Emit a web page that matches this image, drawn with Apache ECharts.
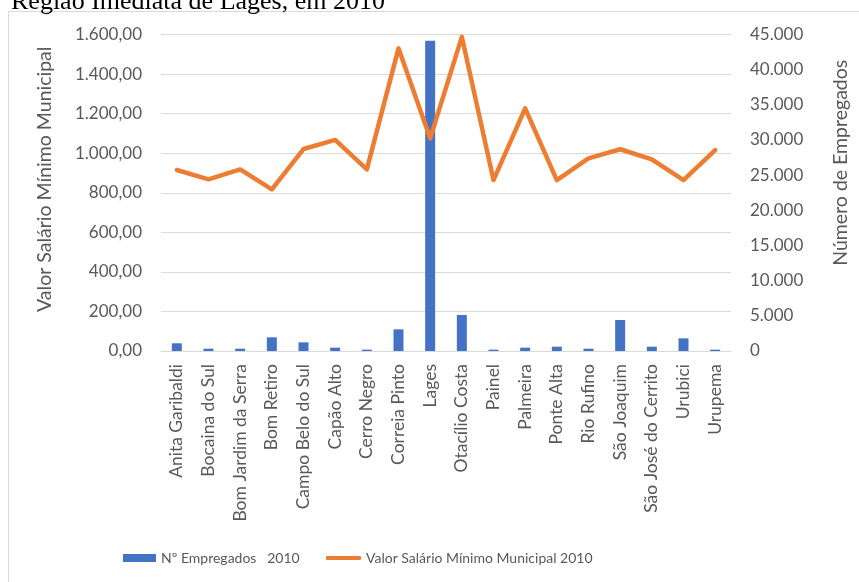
<!DOCTYPE html>
<html>
<head>
<meta charset="utf-8">
<script src="https://cdn.jsdelivr.net/npm/echarts@6/dist/echarts.min.js"></script>
<style>
  html, body { margin: 0; padding: 0; background: #ffffff; }
  #chart { width: 859px; height: 582px; }
</style>
</head>
<body>
<div id="chart"></div>
<script>
// Municípios da Região Imediata de Lages
const municipios = [
  'Anita Garibaldi', 'Bocaina do Sul', 'Bom Jardim da Serra', 'Bom Retiro',
  'Campo Belo do Sul', 'Capão Alto', 'Cerro Negro', 'Correia Pinto', 'Lages',
  'Otacílio Costa', 'Painel', 'Palmeira', 'Ponte Alta', 'Rio Rufino',
  'São Joaquim', 'São José do Cerrito', 'Urubici', 'Urupema'
];

// Valor do salário mínimo municipal em 2010 (R$)
const salarioMinimo2010 = [
  915, 868, 918, 817, 1021, 1067, 918, 1530, 1075,
  1588, 864, 1227, 864, 974, 1020, 969, 864, 1016
];

// Número de empregados em 2010
const empregados2010 = [
  1095, 330, 330, 1945, 1230, 475, 190, 3080, 44120,
  5120, 190, 475, 615, 330, 4410, 615, 1800, 190
];

// Escalas dos eixos
const salarioEixo = { min: 0, max: 1600, interval: 200 };
const empregadosEixo = { min: 0, max: 45000, interval: 5000 };

const serieBarras = 'Nº Empregados   2010';
const serieLinha = 'Valor Salário Mínimo Municipal 2010';

function milhar(n) {
  return String(Math.round(n)).replace(/\B(?=(\d{3})+(?!\d))/g, '.');
}
function moeda(n) {
  const inteiro = Math.floor(n);
  const cent = Math.round((n - inteiro) * 100);
  return milhar(inteiro) + ',' + String(cent).padStart(2, '0');
}

const txt = '#595959';
const grade = '#d9d9d9';
const fonte = 'Lato';
const azul = '#4472C4';
const laranja = '#ED7D31';

const chart = echarts.init(document.getElementById('chart'));
chart.setOption({
  animation: false,
  backgroundColor: '#ffffff',
  title: {
    text: 'Região Imediata de Lages, em 2010',
    left: 6,
    top: -16,
    textStyle: { fontFamily: 'Liberation Serif', fontSize: 26, fontWeight: 'normal', color: '#000000' }
  },
  graphic: [{
    type: 'rect',
    shape: { x: 8.5, y: 11.5, width: 900, height: 620 },
    style: { fill: 'none', stroke: grade, lineWidth: 1 },
    silent: true,
    z: -1
  }],
  grid: { left: 161, right: 126, top: 34.5, bottom: 231, containLabel: false },
  legend: [{
    left: 118,
    top: 546,
    itemWidth: 33,
    itemHeight: 8,
    textStyle: { fontFamily: fonte, fontSize: 14, color: txt },
    data: [{ name: serieBarras, icon: 'rect' }]
  }, {
    left: 321,
    top: 546,
    itemWidth: 35,
    itemHeight: 4,
    textStyle: { fontFamily: fonte, fontSize: 14, color: txt },
    data: [{ name: serieLinha, icon: 'roundRect' }]
  }],
  xAxis: {
    type: 'category',
    data: municipios,
    axisLine: { lineStyle: { color: grade, width: 1 } },
    axisTick: { show: false },
    axisLabel: {
      interval: 0,
      rotate: 90,
      margin: 13,
      fontFamily: fonte,
      fontSize: 17.5,
      color: txt
    }
  },
  yAxis: [{
    type: 'value',
    position: 'left',
    min: salarioEixo.min,
    max: salarioEixo.max,
    interval: salarioEixo.interval,
    name: 'Valor Salário Mínimo Municipal',
    nameLocation: 'middle',
    nameRotate: 90,
    nameGap: 106,
    nameTextStyle: { fontFamily: fonte, fontSize: 19.5, color: txt, padding: [0, 0, 0, 27] },
    axisLine: { show: false },
    axisTick: { show: false },
    splitLine: { lineStyle: { color: grade, width: 1 } },
    axisLabel: {
      margin: 19,
      fontFamily: fonte,
      fontSize: 17,
      color: txt,
      formatter: v => moeda(v)
    }
  }, {
    type: 'value',
    position: 'right',
    min: empregadosEixo.min,
    max: empregadosEixo.max,
    interval: empregadosEixo.interval,
    name: 'Número de Empregados',
    nameLocation: 'middle',
    nameRotate: 90,
    nameGap: 100,
    nameTextStyle: { fontFamily: fonte, fontSize: 19.5, color: txt, padding: [0, 0, 0, 60] },
    axisLine: { show: false },
    axisTick: { show: false },
    splitLine: { show: false },
    axisLabel: {
      margin: 19,
      fontFamily: fonte,
      fontSize: 17,
      color: txt,
      formatter: v => milhar(v)
    }
  }],
  series: [{
    name: serieBarras,
    type: 'bar',
    yAxisIndex: 1,
    data: empregados2010,
    barWidth: 10,
    itemStyle: { color: azul },
    z: 2
  }, {
    name: serieLinha,
    type: 'line',
    yAxisIndex: 0,
    data: salarioMinimo2010,
    symbol: 'none',
    lineStyle: { color: laranja, width: 4.5, join: 'round', cap: 'round' },
    itemStyle: { color: laranja },
    z: 3
  }]
});
</script>
</body>
</html>
